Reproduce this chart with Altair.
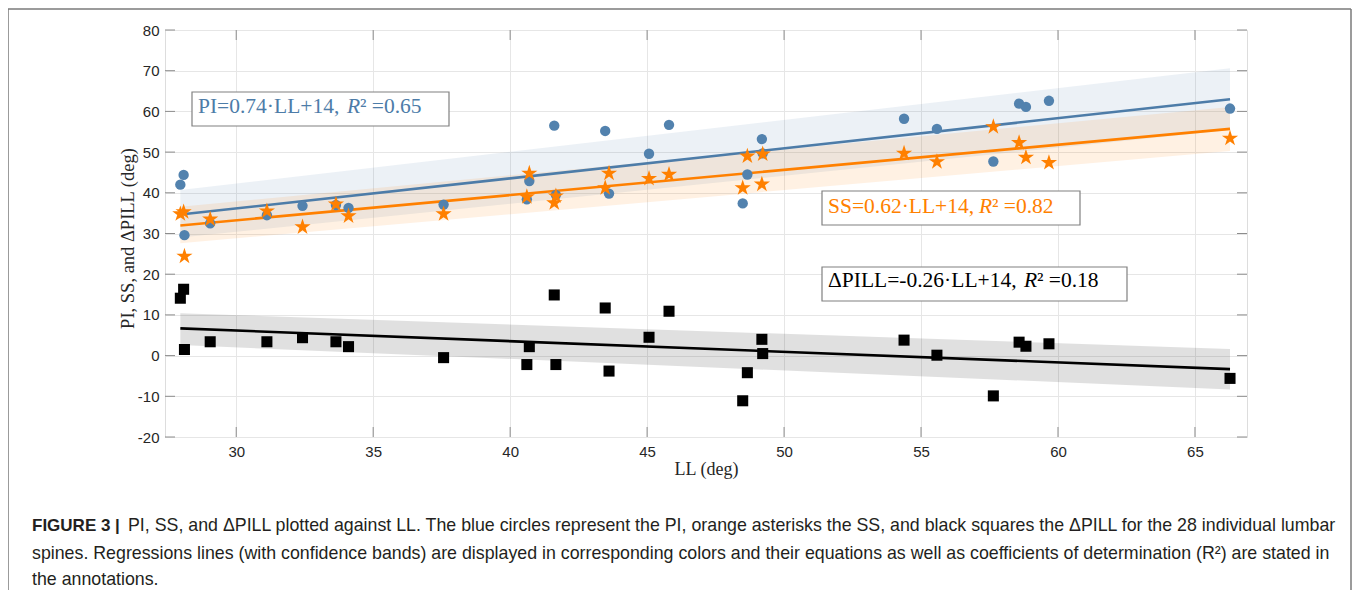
import altair as alt
import pandas as pd

# ---------------- data ----------------
LL = [27.96, 28.08, 28.11, 29.05, 31.12, 32.42, 33.64, 34.10, 37.57, 40.61,
      40.70, 41.61, 41.67, 43.47, 43.61, 45.07, 45.80, 48.49, 48.66, 49.19,
      49.22, 54.38, 55.58, 57.64, 58.58, 58.83, 59.67, 66.28]
PI = [42.0, 44.4, 29.6, 32.5, 34.5, 36.8, 37.0, 36.3, 37.1, 38.4,
      42.9, 56.5, 39.5, 55.2, 39.8, 49.6, 56.7, 37.4, 44.5, 53.2,
      49.7, 58.2, 55.7, 47.7, 61.9, 61.1, 62.6, 60.7]
SS = [34.8, 35.3, 24.4, 33.5, 35.5, 31.6, 37.2, 34.3, 34.8, 39.0,
      44.8, 37.5, 39.2, 41.2, 44.8, 43.5, 44.5, 41.2, 49.0, 42.1,
      49.5, 49.7, 47.6, 56.2, 52.3, 48.7, 47.4, 53.4]
DPILL = [14.1, 16.3, 1.5, 3.4, 3.4, 4.4, 3.4, 2.2, -0.5, -2.2,
         2.2, 14.9, -2.2, 11.7, -3.8, 4.5, 10.9, -11.1, -4.2, 4.0,
         0.5, 3.8, 0.1, -9.9, 3.3, 2.3, 2.9, -5.6]

# confidence band edges at the ends of the LL range
band_LL = [27.96, 66.28]
pi_lo, pi_hi = [29.0, 55.4], [40.7, 70.6]
ss_lo, ss_hi = [27.6, 50.3], [36.6, 61.1]
d_lo, d_hi = [2.6, -8.3], [10.4, 1.6]

x_ticks = [30, 35, 40, 45, 50, 55, 60, 65]
y_ticks = [-20, -10, 0, 10, 20, 30, 40, 50, 60, 70, 80]

series = ["PI", "SS", "DPILL"]
BLUE = "#5282AE"
BLUE_LINE = "#4D7CA8"
ORANGE = "#FF8000"
BLACK = "#000000"

# ---------------- layout ----------------
W, H = 1082, 407
SERIF = "Liberation Serif"
SANS = "Liberation Sans"
STAR = ("M0,-1L0.2245,-0.309L0.9511,-0.309L0.3633,0.118L0.5878,0.809L0,0.382"
        "L-0.5878,0.809L-0.3633,0.118L-0.9511,-0.309L-0.2245,-0.309Z")

pts = pd.DataFrame({"LL": LL, "PI": PI, "SS": SS, "DPILL": DPILL})
xs = alt.Scale(domain=[27.4, 66.9], nice=False, zero=False)
ys = alt.Scale(domain=[-20, 80], nice=False, zero=False)

XAXIS = alt.Axis(values=x_ticks, grid=True, ticks=False, tickSize=0, domain=False,
                 labelExpr="'' + datum.value",
                 labelFont=SANS, labelFontSize=15, labelColor="#262626", labelPadding=7,
                 titleFont=SERIF, titleFontSize=18, titleFontWeight="normal", titleColor="#262626",
                 titleX=541, titleY=32, titleBaseline="middle", titleAlign="center",
                 gridColor="#e6e6e6", gridWidth=1)
YAXIS = alt.Axis(values=y_ticks, grid=True, ticks=False, tickSize=0, domain=False,
                 labelExpr="'' + datum.value",
                 labelFont=SANS, labelFontSize=15, labelColor="#262626", labelPadding=6,
                 titleFont=SERIF, titleFontSize=18.5, titleFontWeight="normal", titleColor="#262626",
                 titleX=-38, titleY=208, titleAngle=-90, titleBaseline="middle", titleAlign="center",
                 gridColor="#e6e6e6", gridWidth=1)
XT = "LL (deg)"
YT = "PI, SS, and \u0394PILL (deg)"


def X(f):
    return alt.X(f, type="quantitative", scale=xs, axis=XAXIS, title=XT)


def Y(f):
    return alt.Y(f, type="quantitative", scale=ys, axis=YAXIS, title=YT)


one = alt.Data(values=[{"a": 1}])

# bands
band_layers = []
for lo, hi, col, op in [(pi_lo, pi_hi, BLUE, 0.11), (ss_lo, ss_hi, ORANGE, 0.11), (d_lo, d_hi, BLACK, 0.12)]:
    bdf = pd.DataFrame({"LL": band_LL, "lo": lo, "hi": hi})
    band_layers.append(
        alt.Chart(bdf).mark_area(color=col, opacity=op).encode(x=X("LL"), y=Y("lo"), y2="hi:Q")
    )

# regression lines
lines = alt.Chart(pts).transform_fold(series, as_=["key", "value"]).transform_regression(
    "LL", "value", groupby=["key"]
).mark_line(strokeWidth=2.6).encode(
    x=X("LL"), y=Y("value"),
    color=alt.Color("key:N", scale=alt.Scale(domain=series, range=[BLUE_LINE, ORANGE, BLACK]), legend=None),
)

pi_pts = alt.Chart(pts).mark_point(shape="circle", filled=True, size=108, color=BLUE, opacity=1).encode(
    x=X("LL"), y=Y("PI"))
ss_pts = alt.Chart(pts).mark_point(shape=STAR, filled=True, size=290, color=ORANGE, opacity=1).encode(
    x=X("LL"), y=Y("SS"))
d_pts = alt.Chart(pts).mark_point(shape="square", filled=True, size=122, color=BLACK, opacity=1).encode(
    x=X("LL"), y=Y("DPILL"))

# inward ticks
xt = pd.DataFrame({"v": x_ticks})
yt = pd.DataFrame({"v": y_ticks})
TICK = "#8c8c8c"
tick_layers = [
    alt.Chart(xt).mark_rule(color=TICK, strokeWidth=1).encode(
        x=X("v"), y=alt.value(H), y2=alt.value(H - 10)),
    alt.Chart(xt).mark_rule(color=TICK, strokeWidth=1).encode(
        x=X("v"), y=alt.value(0), y2=alt.value(10)),
    alt.Chart(yt).mark_rule(color=TICK, strokeWidth=1).encode(
        y=Y("v"), x=alt.value(0), x2=alt.value(10)),
    alt.Chart(yt).mark_rule(color=TICK, strokeWidth=1).encode(
        y=Y("v"), x=alt.value(W - 10), x2=alt.value(W)),
]


# annotation boxes and equations
def box(x1, y1, x2, y2):
    return alt.Chart(one).mark_rect(fill="white", stroke="#808080", strokeWidth=1.2).encode(
        x=alt.value(x1), x2=alt.value(x2), y=alt.value(y1), y2=alt.value(y2))


def txt(s, x, y, col, size=21.5, style="normal", font=SERIF, weight="normal"):
    return alt.Chart(one).mark_text(text=s, align="left", baseline="alphabetic", font=font,
                                    fontSize=size, fontStyle=style, fontWeight=weight, color=col).encode(
        x=alt.value(x), y=alt.value(y))


ann = []
for (bx1, by1, bx2, by2, start, rx, base, head, tail, col) in [
    (27, 62, 284, 96, 33, 182, 82.5, "PI=0.74\u00b7LL+14,", "\u00b2 =0.65", BLUE_LINE),
    (657, 161, 915, 195, 663, 814, 182.5, "SS=0.62\u00b7LL+14,", "\u00b2 =0.82", ORANGE),
    (657, 237, 962, 271, 663, 859, 256.5, "\u0394PILL=-0.26\u00b7LL+14,", "\u00b2 =0.18", BLACK),
]:
    ann += [box(bx1, by1, bx2, by2),
            txt(head, start, base, col),
            txt("R", rx, base, col, style="italic"),
            txt(tail, rx + 13, base, col)]

# figure frame and caption
FRAME = "#7a7a7a"
frame = [
    alt.Chart(one).mark_rule(color=FRAME, strokeWidth=1.5).encode(
        x=alt.value(-157), x2=alt.value(1186), y=alt.value(-21)),
    alt.Chart(one).mark_rule(color=FRAME, strokeWidth=1.5).encode(
        x=alt.value(-157), y=alt.value(-21), y2=alt.value(600)),
    alt.Chart(one).mark_rule(color=FRAME, strokeWidth=1.5).encode(
        x=alt.value(1186), y=alt.value(-21), y2=alt.value(600)),
]
CAP = "#231f20"
CS = 17.8
caption = [
    txt("FIGURE 3 |", -133, 500.5, CAP, size=17, font=SANS, weight="bold"),
    txt("PI, SS, and \u0394PILL plotted against LL. The blue circles represent the PI, orange asterisks "
        "the SS, and black squares the \u0394PILL for the 28 individual lumbar", -37, 500.5, CAP, size=CS, font=SANS),
    txt("spines. Regressions lines (with confidence bands) are displayed in corresponding colors and their "
        "equations as well as coefficients of determination (R\u00b2) are stated in", -133, 528.5, CAP, size=CS, font=SANS),
    txt("the annotations.", -133, 554.5, CAP, size=CS, font=SANS),
]

chart = alt.layer(
    *band_layers, lines, *tick_layers, pi_pts, ss_pts, d_pts, *ann, *frame, *caption
).properties(
    width=W, height=H,
    autosize=alt.AutoSizeParams(type="none"),
    padding={"left": 157, "top": 22, "right": 105, "bottom": 153},
).configure_view(stroke="#9a9a9a", strokeWidth=1).configure(background="white")

chart.save("out.html", embed_options={"renderer": "svg", "actions": False})
